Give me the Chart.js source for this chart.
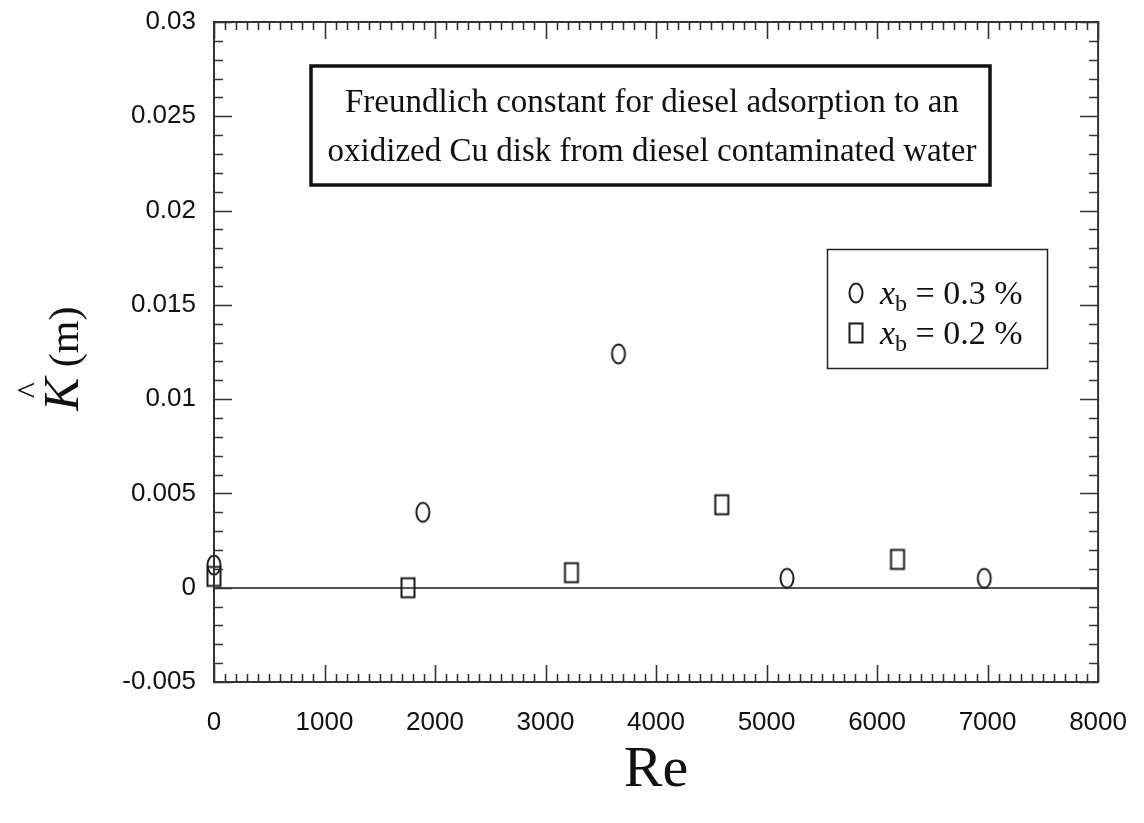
<!DOCTYPE html>
<html>
<head>
<meta charset="utf-8">
<script src="https://cdn.jsdelivr.net/npm/chart.js@4/dist/chart.umd.min.js"></script>
<style>
  html, body { margin: 0; padding: 0; background: #fff; }
</style>
</head>
<body>
<canvas id="chart" width="1144" height="823"></canvas>
<script>
// data
const reCircle = [0, 1890, 3660, 5185, 6970];
const kCircle = [0.0012, 0.0040, 0.0124, 0.0005, 0.0005];
const reSquare = [0, 1755, 3235, 4595, 6185];
const kSquare = [0.0006, 0.0000, 0.0008, 0.0044, 0.0015];
const legendValues = ["0.3 %", "0.2 %"];
const boxLines = [
  "Freundlich constant for diesel adsorption to an",
  "oxidized Cu disk from diesel contaminated water",
];

const ink = "#1a1a1a";
const serif = '"Liberation Serif", "Times New Roman", serif';
const sans = '"Liberation Sans", Arial, sans-serif';

// open markers: tall ellipse and tall rectangle
function marker(kind) {
  const c = document.createElement("canvas");
  c.width = 20; c.height = 26;
  const g = c.getContext("2d");
  g.strokeStyle = ink;
  g.lineWidth = 2;
  if (kind === "ellipse") {
    g.beginPath();
    g.ellipse(10, 13, 6.5, 9.5, 0, 0, Math.PI * 2);
    g.stroke();
  } else {
    g.strokeRect(3.5, 3.5, 13, 19);
  }
  return c;
}
const ellipseImg = marker("ellipse");
const rectImg = marker("rect");

function toPoints(xs, ys) {
  return xs.map((x, i) => ({ x: x, y: ys[i] }));
}

// frame with inward ticks, text box, legend and y title
const decor = {
  id: "decor",
  afterDraw(chart) {
    const ctx = chart.ctx;
    const a = chart.chartArea;
    const xs = chart.scales.x;
    const ys = chart.scales.y;
    ctx.save();
    ctx.strokeStyle = "#333";
    ctx.lineWidth = 2;
    ctx.strokeRect(a.left, a.top, a.right - a.left, a.bottom - a.top);

    ctx.lineWidth = 1.6;
    ctx.beginPath();
    for (let v = 0; v <= 8000; v += 100) {
      const px = Math.round(xs.getPixelForValue(v)) + 0.5;
      const len = v % 1000 === 0 ? 17 : 8;
      ctx.moveTo(px, a.bottom); ctx.lineTo(px, a.bottom - len);
      ctx.moveTo(px, a.top); ctx.lineTo(px, a.top + len);
    }
    for (let i = 0; i <= 35; i++) {
      const v = -0.005 + i * 0.001;
      const py = Math.round(ys.getPixelForValue(v)) + 0.5;
      const len = i % 5 === 0 ? 18 : 9;
      ctx.moveTo(a.left, py); ctx.lineTo(a.left + len, py);
      ctx.moveTo(a.right, py); ctx.lineTo(a.right - len, py);
    }
    ctx.stroke();

    // text box
    ctx.strokeStyle = "#111";
    ctx.lineWidth = 3.5;
    ctx.strokeRect(311, 66, 679, 119);
    ctx.fillStyle = "#111";
    ctx.font = "33px " + serif;
    ctx.textAlign = "center";
    ctx.textBaseline = "alphabetic";
    ctx.fillText(boxLines[0], 652, 112);
    ctx.fillText(boxLines[1], 652, 161);

    // legend
    ctx.lineWidth = 1.5;
    ctx.strokeStyle = "#222";
    ctx.strokeRect(827.5, 249.5, 220, 119);
    const imgs = [ellipseImg, rectImg];
    const rows = [293, 333];
    rows.forEach((cy, i) => {
      ctx.drawImage(imgs[i], 856 - imgs[i].width / 2, cy - imgs[i].height / 2);
      let x = 880;
      const base = cy + 11;
      ctx.textAlign = "left";
      ctx.font = "italic 34px " + serif;
      ctx.fillText("x", x, base);
      x += ctx.measureText("x").width;
      ctx.font = "24px " + serif;
      ctx.fillText("b", x, base + 7);
      x += ctx.measureText("b").width;
      ctx.font = "34px " + serif;
      ctx.fillText(" = " + legendValues[i], x, base);
    });

    // y title: K-hat (m), rotated
    ctx.translate(78, 411);
    ctx.rotate(-Math.PI / 2);
    ctx.textAlign = "left";
    ctx.font = "italic 50px " + serif;
    ctx.fillText("K", 0, 0);
    const kw = ctx.measureText("K").width;
    ctx.font = "34px " + serif;
    ctx.textAlign = "center";
    ctx.fillText("^", kw / 2 + 4, -38);
    ctx.textAlign = "left";
    ctx.font = "42px " + serif;
    ctx.fillText(" (m)", kw, 0);
    ctx.restore();
  },
};

new Chart(document.getElementById("chart"), {
  type: "scatter",
  plugins: [decor],
  data: {
    datasets: [
      {
        label: "x_b = 0.3 %",
        data: toPoints(reCircle, kCircle),
        pointStyle: ellipseImg,
        clip: false,
      },
      {
        label: "x_b = 0.2 %",
        data: toPoints(reSquare, kSquare),
        pointStyle: rectImg,
        clip: false,
      },
    ],
  },
  options: {
    responsive: false,
    animation: false,
    devicePixelRatio: 1,
    layout: { padding: { top: 22, right: 34, left: 0, bottom: 0 } },
    plugins: {
      legend: { display: false },
      tooltip: { enabled: false },
    },
    scales: {
      x: {
        type: "linear",
        min: 0,
        max: 8000,
        afterFit: (s) => { s.height = 141; },
        border: { display: false },
        grid: { display: false },
        ticks: {
          stepSize: 1000,
          padding: 17,
          maxRotation: 0,
          color: "#111",
          font: { family: sans, size: 26 },
          callback: (v) => String(v),
        },
        title: {
          display: true,
          text: "Re",
          color: "#111",
          font: { family: serif, size: 58 },
          padding: { top: 4, bottom: 17 },
        },
      },
      y: {
        min: -0.005,
        max: 0.03,
        afterFit: (s) => {
          s.width = 214;
          s.paddingTop = 0;
          s.paddingBottom = 0;
        },
        border: { display: false },
        grid: {
          drawTicks: false,
          lineWidth: 2,
          color: (c) => (c.tick && Math.abs(c.tick.value) < 1e-9 ? "#555" : "rgba(0,0,0,0)"),
        },
        ticks: {
          stepSize: 0.005,
          padding: 18,
          color: "#111",
          font: { family: sans, size: 26 },
          callback: (v) => (Math.abs(v) < 1e-9 ? "0" : String(+v.toFixed(3))),
        },
      },
    },
  },
});
</script>
</body>
</html>
